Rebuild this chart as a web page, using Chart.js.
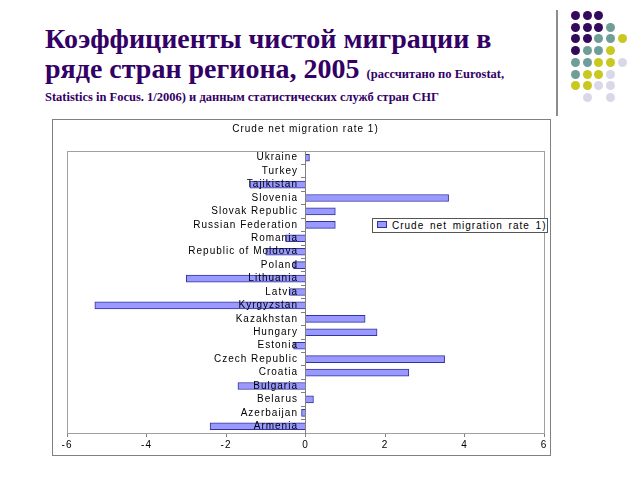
<!DOCTYPE html>
<html>
<head>
<meta charset="utf-8">
<script src="https://cdn.jsdelivr.net/npm/chart.js@4"></script>
<style>
  body { margin: 0; width: 640px; height: 480px; background: #fff; position: relative; overflow: hidden; }
  .title { position: absolute; left: 45px; top: 24px; font-family: "Liberation Serif", serif; font-weight: bold; color: #330066; }
  .big { font-size: 28px; line-height: 30px; }
  .small { font-size: 12.5px; }
  .vline { position: absolute; left: 556px; top: 10px; width: 2px; height: 106px; background: #8c8c8c; }
  .dot { position: absolute; width: 9px; height: 9px; border-radius: 50%; }
  .box { position: absolute; left: 52px; top: 119px; width: 497px; height: 335px; border: 1px solid #808080; }
  .legend { position: absolute; left: 372px; top: 218px; width: 174px; height: 13px; border: 1px solid #555;
    background: #fff; font: 10px Arial, "Liberation Sans", sans-serif; letter-spacing: 1px; word-spacing: 2px;
    line-height: 13px; color: #000; white-space: nowrap; overflow: hidden; }
  .legend span { display: inline-block; width: 8px; height: 5px; background: #9999ff; border: 1px solid #333399; margin: 0 5px 1px 4px; }
</style>
</head>
<body>
<div class="title">
  <div class="big">Коэффициенты чистой миграции в</div>
  <div class="big">ряде стран региона, 2005 <span class="small">(рассчитано по Eurostat,</span></div>
  <div class="small" style="margin-top:1px">Statistics in Focus. 1/2006) и данным статистических служб стран СНГ</div>
</div>
<div class="vline"></div>
<div id="dots"></div>
<div class="box"><canvas id="chart" width="497" height="335"></canvas></div>
<div class="legend" id="legend"></div>
<script>
var countries = ['Armenia', 'Azerbaijan', 'Belarus', 'Bulgaria', 'Croatia', 'Czech Republic', 'Estonia',
    'Hungary', 'Kazakhstan', 'Kyrgyzstan', 'Latvia', 'Lithuania', 'Poland', 'Republic of Moldova',
    'Romania', 'Russian Federation', 'Slovak Republic', 'Slovenia', 'Tajikistan', 'Turkey', 'Ukraine'];
var rates = [-2.4, -0.1, 0.2, -1.7, 2.6, 3.5, -0.3, 1.8, 1.5, -5.3, -0.4, -3.0, -0.3, -1.0,
    -0.5, 0.75, 0.75, 3.6, -1.4, 0, 0.1];
var seriesName = 'Crude net migration rate 1)';
var xTicks = [-6, -4, -2, 0, 2, 4, 6];

// decorative dots, top right
var dotColors = {p: '#330a5c', t: '#6f9e98', y: '#c8c820', l: '#d8d8e8'};
var dotRows = ['ppp', 'pppt', 'pptty', 'ptty', 'ttyyl', 'tyyl', 'yyll', ' l l'];
var dotsDiv = document.getElementById('dots');
dotRows.forEach(function (row, r) {
    for (var c = 0; c < row.length; c++) {
        if (row[c] === ' ') continue;
        var d = document.createElement('div');
        d.className = 'dot';
        d.style.left = (571 + c * 11.7) + 'px';
        d.style.top = (11 + r * 11.7) + 'px';
        d.style.background = dotColors[row[c]];
        dotsDiv.appendChild(d);
    }
});

document.getElementById('legend').innerHTML = '<span></span>' + seriesName;

var framePlugin = {
    id: 'frame',
    beforeDraw: function (chart) {
        chart.ctx.letterSpacing = '1px';
    },
    beforeDatasetsDraw: function (chart) {
        var a = chart.chartArea, ctx = chart.ctx;
        ctx.save();
        ctx.strokeStyle = '#a0a0a0';
        ctx.lineWidth = 1;
        ctx.strokeRect(Math.round(a.left) + 0.5, Math.round(a.top) + 0.5,
            Math.round(a.right - a.left), Math.round(a.bottom - a.top));
        ctx.restore();
    }
};

var ctx = document.getElementById('chart').getContext('2d');
var chart = new Chart(ctx, {
    type: 'bar',
    data: {
        labels: countries,
        datasets: [{
            label: seriesName,
            data: rates,
            backgroundColor: '#9999ff',
            borderColor: '#333399',
            borderWidth: 1,
            barThickness: 7,
        }]
    },
    options: {
        indexAxis: 'y',
        responsive: false,
        animation: false,
        layout: {padding: {left: 14, right: 6, top: 2, bottom: 2}},
        plugins: {
            legend: {display: false},
            tooltip: {enabled: false},
            title: {
                display: true,
                text: seriesName,
                color: '#000',
                font: {family: 'Arial, "Liberation Sans"', size: 10, weight: 'normal'},
                padding: {top: 1, bottom: 16},
            },
        },
        scales: {
            x: {
                min: -6, max: 6,
                afterBuildTicks: function (scale) {
                    scale.ticks = xTicks.map(function (v) { return {value: v}; });
                },
                grid: {drawOnChartArea: false, drawTicks: true, tickLength: 4, color: '#808080'},
                border: {display: true, color: '#a0a0a0'},
                ticks: {color: '#000', font: {family: 'Arial, "Liberation Sans"', size: 10}, padding: 2},
            },
            y: {
                position: {x: 0},
                reverse: true,
                grid: {drawOnChartArea: false, drawTicks: true, tickLength: 4, offset: true, color: '#808080'},
                border: {display: true, color: '#808080', z: 1},
                ticks: {
                    z: 1,
                    color: '#000',
                    font: {family: 'Arial, "Liberation Sans"', size: 10},
                    autoSkip: false,
                    // keep labels clear of the zero line
                    callback: function (v) { return this.getLabelForValue(v) + '  '; }
                },
            }
        }
    },
    plugins: [framePlugin]
});
</script>
</body>
</html>
